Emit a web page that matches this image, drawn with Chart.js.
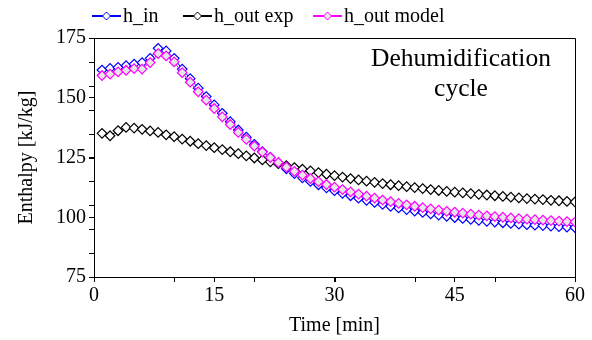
<!DOCTYPE html>
<html lang="en">
<head>
<meta charset="UTF-8" />
<title>Dehumidification cycle</title>
<script src="https://cdn.jsdelivr.net/npm/chart.js@4.4.0/dist/chart.umd.min.js"></script>
<style>
  body { margin: 0; background: #fff; }
  .wrap { width: 592px; height: 340px; }
</style>
</head>
<body>
<div class="wrap"><canvas id="enthalpyChart" width="592" height="340"></canvas></div>
<script>
const minutes = [1, 2, 3, 4, 5, 6, 7, 8, 9, 10, 11, 12, 13, 14, 15, 16, 17, 18, 19, 20,
  21, 22, 23, 24, 25, 26, 27, 28, 29, 30, 31, 32, 33, 34, 35, 36, 37, 38, 39, 40,
  41, 42, 43, 44, 45, 46, 47, 48, 49, 50, 51, 52, 53, 54, 55, 56, 57, 58, 59, 60];

const hIn = [161.6, 162.3, 162.7, 163.4, 164.1, 164.7, 166.5, 170.7, 169.6, 166.5,
  162.0, 158.0, 154.0, 150.5, 147.0, 143.5, 140.0, 136.5, 133.5, 130.5,
  127.5, 125.0, 122.5, 120.3, 118.3, 116.5, 115.0, 113.6, 112.3, 111.1,
  110.0, 109.0, 108.0, 107.1, 106.2, 105.4, 104.6, 103.9, 103.2, 102.6,
  102.0, 101.4, 100.9, 100.4, 99.9, 99.5, 99.1, 98.7, 98.3, 98.0,
  97.7, 97.4, 97.1, 96.9, 96.7, 96.5, 96.3, 96.1, 95.9, 95.7];

const hOutExp = [135.1, 134.1, 136.2, 137.6, 137.3, 136.8, 136.1, 135.5, 134.5, 133.7,
  132.7, 131.8, 130.8, 130.0, 129.1, 128.3, 127.4, 126.6, 125.7, 124.8,
  124.0, 123.2, 122.4, 121.6, 120.8, 120.1, 119.4, 118.7, 118.0, 117.4,
  116.8, 116.2, 115.6, 115.1, 114.6, 114.1, 113.6, 113.2, 112.8, 112.4,
  112.0, 111.6, 111.2, 110.8, 110.5, 110.2, 109.9, 109.6, 109.3, 109.0,
  108.7, 108.4, 108.1, 107.8, 107.6, 107.4, 107.1, 106.9, 106.6, 106.4];

const hOutModel = [159.3, 159.9, 160.8, 161.5, 162.2, 162.0, 164.7, 168.5, 167.5, 165.0,
  160.5, 156.5, 152.5, 149.0, 145.5, 142.0, 138.8, 135.5, 132.6, 129.8,
  127.3, 125.0, 122.9, 121.0, 119.2, 117.6, 116.2, 114.9, 113.7, 112.6,
  111.6, 110.6, 109.7, 108.8, 108.0, 107.2, 106.5, 105.8, 105.2, 104.6,
  104.0, 103.5, 103.0, 102.5, 102.1, 101.7, 101.3, 100.9, 100.6, 100.3,
  100.0, 99.7, 99.4, 99.2, 99.0, 98.8, 98.6, 98.4, 98.2, 98.0];

const seriesNames = ["h_in", "h_out exp", "h_out model"];
const xTicks = [0, 15, 30, 45, 60];
const yTicks = [75, 100, 125, 150, 175];
const xMinorTicks = [10, 20, 30, 40, 50];
const yMinorTicks = [85, 95, 105, 115, 125, 135, 145, 155, 165];

const FONT = "'Liberation Serif', 'Times New Roman', serif";

function toPoints(values) {
  return values.map((v, i) => ({ x: minutes[i], y: v }));
}

function series(label, values, color, fill, order) {
  return {
    label: label,
    data: toPoints(values),
    borderColor: color,
    backgroundColor: fill,
    borderWidth: 1,
    pointStyle: "rectRot",
    pointRadius: 4.8,
    pointBorderWidth: 1.2,
    pointBorderColor: color,
    pointBackgroundColor: fill,
    order: order,
  };
}

// legend + frame + minor ticks + text box
const decorations = {
  id: "decorations",
  afterDraw(chart) {
    const ctx = chart.ctx;
    const { left, right, top, bottom } = chart.chartArea;
    const xs = chart.scales.x;
    const ys = chart.scales.y;

    ctx.save();
    ctx.strokeStyle = "#000";
    ctx.lineWidth = 1;
    ctx.beginPath();
    ctx.moveTo(left, top + 0.5);
    ctx.lineTo(right + 0.5, top + 0.5);
    ctx.lineTo(right + 0.5, bottom);
    ctx.stroke();

    ctx.beginPath();
    xMinorTicks.forEach(v => {
      const px = Math.round(xs.getPixelForValue(v)) + 0.5;
      ctx.moveTo(px, bottom);
      ctx.lineTo(px, bottom + 5);
    });
    yMinorTicks.forEach(v => {
      const py = Math.round(ys.getPixelForValue(v)) + 0.5;
      ctx.moveTo(left, py);
      ctx.lineTo(left - 5, py);
    });
    ctx.stroke();

    // legend
    const items = [
      { color: "#0000ff", fill: "#ffffff", x: 92 },
      { color: "#000000", fill: "#ffffff", x: 183 },
      { color: "#ff00ff", fill: "#e6e6e6", x: 313 },
    ];
    const ly = 16;
    items.forEach((it, i) => {
      ctx.strokeStyle = it.color;
      ctx.lineWidth = 2;
      ctx.beginPath();
      ctx.moveTo(it.x, ly);
      ctx.lineTo(it.x + 29, ly);
      ctx.stroke();
      ctx.lineWidth = 1;
      ctx.fillStyle = it.fill;
      const cx = it.x + 14.5;
      ctx.beginPath();
      ctx.moveTo(cx, ly - 4);
      ctx.lineTo(cx + 4, ly);
      ctx.lineTo(cx, ly + 4);
      ctx.lineTo(cx - 4, ly);
      ctx.closePath();
      ctx.fill();
      ctx.stroke();
      ctx.fillStyle = "#000";
      ctx.font = "20px " + FONT;
      ctx.textBaseline = "middle";
      ctx.textAlign = "left";
      ctx.fillText(seriesNames[i], it.x + 31, ly + 1);
    });

    ctx.font = "25.5px " + FONT;
    ctx.textAlign = "center";
    ctx.textBaseline = "middle";
    ctx.fillText("Dehumidification", 461, 59);
    ctx.fillText("cycle", 461, 89);
    ctx.restore();
  },
};

new Chart(document.getElementById("enthalpyChart"), {
  type: "line",
  data: {
    datasets: [
      series(seriesNames[0], hIn, "#0000ff", "#ffffff", 2),
      series(seriesNames[1], hOutExp, "#000000", "#ffffff", 1),
      series(seriesNames[2], hOutModel, "#ff00ff", "#e6e6e6", 0),
    ],
  },
  options: {
    responsive: false,
    animation: false,
    layout: { padding: { top: 38, right: 17, left: 0, bottom: 0 } },
    plugins: { legend: { display: false }, tooltip: { enabled: false } },
    scales: {
      x: {
        type: "linear",
        min: 0,
        max: 60,
        afterBuildTicks: s => { s.ticks = xTicks.map(v => ({ value: v })); },
        afterFit: s => { s.height = 63; },
        grid: { drawOnChartArea: false, drawTicks: true, tickLength: 5, color: "#000" },
        border: { color: "#000", width: 1 },
        ticks: { color: "#000", font: { family: FONT, size: 20 }, padding: 2, maxRotation: 0 },
        title: { display: true, text: "Time [min]", color: "#000", font: { family: FONT, size: 20 }, padding: { bottom: 2 } },
      },
      y: {
        min: 75,
        max: 175,
        afterBuildTicks: s => { s.ticks = yTicks.map(v => ({ value: v })); },
        afterFit: s => { s.width = 94; },
        grid: { drawOnChartArea: false, drawTicks: true, tickLength: 5, color: "#000" },
        border: { color: "#000", width: 1 },
        ticks: { color: "#000", font: { family: FONT, size: 20 }, padding: 3 },
        title: { display: true, text: "Enthalpy [kJ/kg]", color: "#000", font: { family: FONT, size: 20 }, padding: { top: 15 } },
      },
    },
  },
  plugins: [decorations],
});
</script>
</body>
</html>
